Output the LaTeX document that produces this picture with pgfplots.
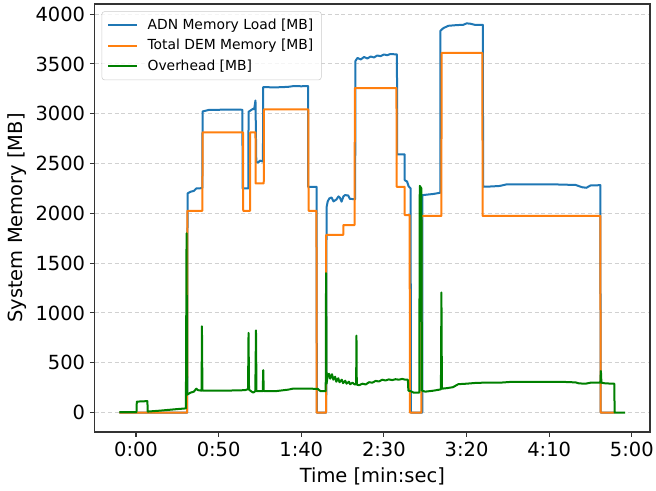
\documentclass[border=0pt]{standalone}
\usepackage{fontspec}
\setmainfont{DejaVu Sans}
\usepackage{pgfplots}
\pgfplotsset{compat=1.18}
\definecolor{cblue}{RGB}{31,119,180}
\definecolor{corange}{RGB}{255,127,14}
\definecolor{cgreen}{RGB}{0,128,0}
\begin{document}
\begin{tikzpicture}
\path[use as bounding box] (-71pt,-44.25pt) rectangle (421pt,324pt);
\begin{axis}[
 at={(0,0)}, anchor=south west,
 scale only axis, width=416.5pt, height=321pt,
 xmin=-25, xmax=311, ymin=-195, ymax=4102,
 xtick={0,50,100,150,200,250,300},
 xticklabels={0:00,0:50,1:40,2:30,3:20,4:10,5:00},
 ytick={0,500,1000,1500,2000,2500,3000,3500,4000},
 /pgf/number format/1000 sep={},
 /pgf/number format/assume math mode=true,
 tick align=outside, major tick length=3.65pt,
 xtick pos=lower, ytick pos=left,
 tick style={black!80, line width=0.8pt},
 axis line style={black!80, line width=0.8pt},
 ymajorgrids, major grid style={dash pattern=on 3pt off 2pt, black!18, line width=0.8pt},
 ticklabel style={font=\fontsize{14.6}{17}\selectfont},
 label style={font=\fontsize{14.6}{17}\selectfont},
 xlabel={Time [min:sec]}, ylabel={System Memory [MB]},
 xlabel style={yshift=-2pt},
 legend cell align=left,
 legend image code/.code={\draw[#1] (0pt,0pt) -- (21.75pt,0pt);},
 legend style={at={(0,1)}, anchor=north west, xshift=5.25pt, yshift=-5.5pt,
   draw=black!20, rounded corners=2pt, fill=white, fill opacity=0.8, text opacity=1,
   font=\fontsize{10.4}{12.5}\selectfont, inner xsep=4pt, inner ysep=3.5pt, row sep=2pt,
   /tikz/every odd column/.append style={column sep=5pt}},
 every axis plot/.append style={line width=1.5pt, line join=round},
]
\addplot[cblue] coordinates {
(-10,0) (31.0,0) (31.2,2200) (33,2217) (35,2225) (36.5,2250) (40.1,2253) (40.3,3023) (42,3030) (44,3038) (50,3040) (58,3042) (64.4,3040) (64.5,2250) (68.0,2250) (68.1,3020) (69.5,3035) (70.9,3050) (71.5,3045) (72.3,3133) (72.8,2517) (74,2510) (75,2530) (76.8,2520) (77.0,3267) (85,3265) (92,3270) (95,3277) (100,3276) (104.1,3277) (104.2,2267) (109.3,2267) (109.4,0) (115.1,0)
(115.3,2060) (116,2120) (117,2150) (118.3,2160) (119.5,2120) (121.3,2140) (122.5,2170) (123.3,2160) (124.4,2117) (125.5,2170) (126.4,2183) (128.4,2180) (129.4,2145) (132.6,2143)
(132.8,3530) (134,3560) (136,3545) (138,3570) (140,3555) (142,3575) (144,3565) (146,3585) (148,3578) (150,3595) (152,3588) (154,3600) (157.9,3595) (158.0,2593) (162.5,2593) (162.6,2333) (164,2320) (165,2270) (166.2,2250) (166.3,0) (173.2,0)
(173.3,2183) (180,2195) (184.1,2207) (184.2,3833) (186,3860) (189,3883) (194,3890) (198,3893) (200,3907) (202,3905) (205,3893) (209.9,3893) (210.0,2267) (215,2270) (220,2275) (224,2290) (240,2290) (255,2290) (266,2285) (270,2262) (272.5,2257) (275,2280) (281.0,2283) (281.1,0) (289.6,0)
};
\addlegendentry{ADN Memory Load [MB]}
\addplot[corange] coordinates {
(-10,0) (31.0,0) (31.1,2026) (40.2,2026) (40.3,2813) (64.8,2813) (64.9,2026) (69.0,2026) (69.1,2813) (72.3,2813) (72.4,2300) (77.3,2300) (77.4,3043) (104.3,3043) (104.4,2026) (109.2,2026) (109.3,0) (115.0,0) (115.1,1783) (125.4,1783) (125.5,1883) (132.3,1883) (132.4,3257) (157.6,3257) (157.7,2267) (162.5,2267) (162.6,1983) (165.6,1983) (165.7,0) (172.6,0) (172.7,1975) (184.8,1975) (184.9,3610) (209.6,3610) (209.7,1975) (281.0,1975) (281.1,0) (289.6,0)
};
\addlegendentry{Total DEM Memory [MB]}
\addplot[cgreen] coordinates {
(-10,5) (0.3,5) (0.5,110) (6.9,115) (7.1,10) (15,20) (25,35) (30.2,42) (30.6,1800) (30.9,180) (33,200) (35,210) (36.5,240) (37.5,225) (39.7,220) (39.9,866) (40.2,220) (50,220) (60,222) (66,225) (67.8,235) (68.1,800) (68.4,230) (70,210) (70.9,200) (72.2,215) (72.6,826) (72.9,215) (76.7,215) (77.0,426) (77.3,216) (85,216) (92,230) (95,240) (105,240) (110,238) (111.5,216) (114.8,216) (115.0,1400)
(115.3,290) (116,370) (116.8,390) (117.5,340) (118.6,385) (119.4,330) (120.5,360) (121.2,310) (122.4,345) (123.1,305) (124.5,330) (125.3,295) (126.6,320) (127.4,290) (128.8,310) (129.6,285) (131,300) (132.5,280) (133.2,290) (133.4,773) (133.6,280) (135,275) (137,290) (139,282) (141,305) (143,300) (145,318) (147,312) (149,330) (151,322) (153,333) (155,326) (157,335) (159,330) (161,338) (163,330) (164.5,330) (164.8,220) (166,216) (168,200) (171.4,200) (171.7,2276) (172.7,2250) (173.0,220)
(175,210) (180,220) (184.5,233) (184.8,1206) (185.1,240) (188,245) (191.8,255) (195,285) (200,290) (205,297) (210,300) (220,300) (226,307) (240,307) (260,307) (266,303) (268,293) (272,290) (275,300) (281.0,300) (281.3,417) (281.6,300) (284,293) (289.4,290) (289.6,0) (296,0)
};
\addlegendentry{Overhead [MB]}
\end{axis}
\end{tikzpicture}
\end{document}
